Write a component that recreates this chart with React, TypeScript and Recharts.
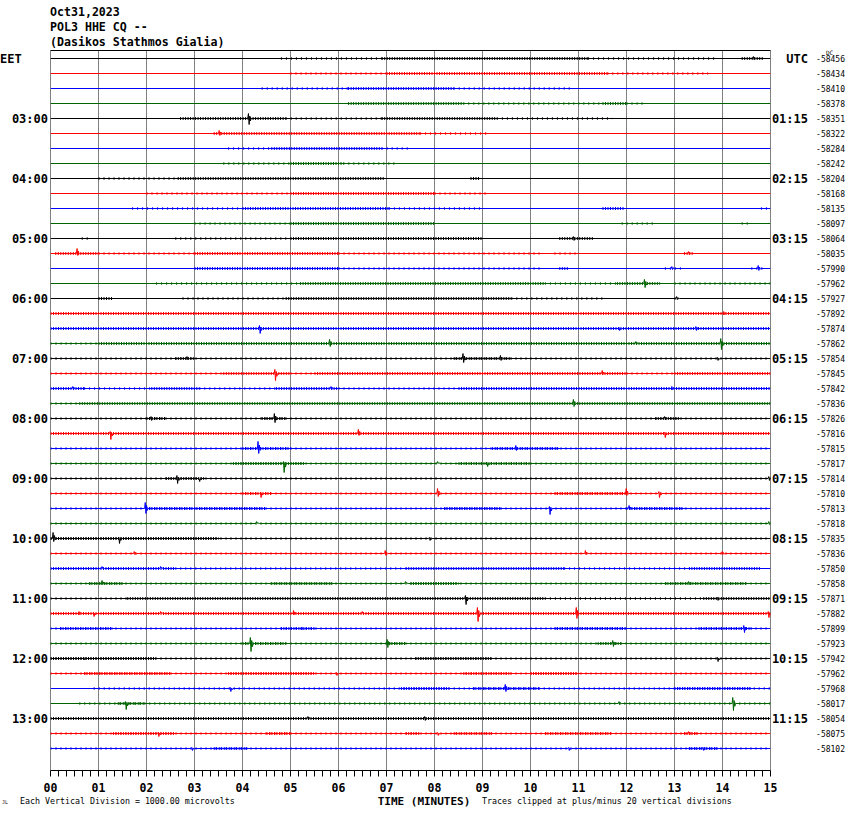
import React from "react";
import { LineChart, Line, XAxis, YAxis, ReferenceLine } from "recharts";

// labels
const minuteLabels = ["00", "01", "02", "03", "04", "05", "06", "07", "08", "09", "10", "11", "12", "13", "14", "15"];
const eetHours = ["03:00", "04:00", "05:00", "06:00", "07:00", "08:00", "09:00", "10:00", "11:00", "12:00", "13:00"];
const utcHours = ["01:15", "02:15", "03:15", "04:15", "05:15", "06:15", "07:15", "08:15", "09:15", "10:15", "11:15"];

// DC offset printed at the right of each trace
const dcValues = [
  -58456, -58434, -58410, -58378, -58351, -58322, -58284, -58242, -58204, -58168, -58135, -58097,
  -58064, -58035, -57990, -57962, -57927, -57892, -57874, -57862, -57854, -57845, -57842, -57836,
  -57826, -57816, -57815, -57817, -57814, -57810, -57813, -57818, -57835, -57836, -57850, -57858,
  -57871, -57882, -57899, -57923, -57942, -57962, -57968, -58017, -58054, -58075, -58102,
];

const traceColors = ["#000000", "#ff0000", "#0000ff", "#006400"];

// noisy stretches of each trace: [from minute, to minute, level 1 = light / 2 = heavy]
const noiseSegments: [number, number, number][][] = [
  [[4.8, 6.9, 1], [6.9, 11.2, 2], [11.2, 13.9, 1], [14.4, 14.85, 2]],
  [[5.0, 7.0, 1], [7.0, 11.6, 2], [11.6, 13.7, 1]],
  [[4.4, 6.2, 1], [6.2, 8.4, 2], [8.4, 10.9, 1]],
  [[6.2, 8.6, 2], [8.6, 11.5, 1], [11.5, 12.0, 2], [12.0, 12.4, 1]],
  [[2.7, 4.9, 2], [4.9, 6.9, 1], [6.9, 9.3, 2], [9.3, 11.7, 1]],
  [[3.4, 7.7, 2], [7.7, 9.1, 1]],
  [[3.7, 4.6, 1], [4.6, 6.9, 2], [6.9, 7.5, 1]],
  [[3.6, 5.0, 1], [5.0, 6.1, 2], [6.1, 7.2, 1]],
  [[1.0, 2.65, 1], [2.65, 6.95, 2], [8.75, 8.95, 2]],
  [[2.0, 5.0, 1], [5.0, 8.0, 2], [8.0, 9.1, 1]],
  [[1.7, 4.0, 1], [4.0, 7.05, 2], [7.05, 9.0, 1], [11.5, 11.95, 2], [14.8, 15, 1]],
  [[3.0, 5.0, 1], [5.0, 8.0, 2], [11.9, 12.6, 1], [14.4, 14.6, 1]],
  [[0.65, 0.8, 1], [2.6, 5.0, 1], [5.0, 9.0, 2], [10.6, 11.3, 2]],
  [[0.1, 1.0, 2], [1.0, 3.0, 1], [3.0, 6.0, 2], [6.0, 10.2, 1], [10.5, 11.0, 1], [13.2, 13.4, 2]],
  [[3.0, 6.0, 2], [6.0, 10.2, 1], [10.6, 10.8, 2], [12.8, 13.2, 1], [14.6, 14.9, 1]],
  [[2.2, 5.2, 1], [5.2, 10.3, 2], [10.3, 11.8, 1], [11.8, 12.7, 2], [13.0, 15, 1]],
  [[1.0, 1.3, 2], [2.75, 4.9, 1], [4.9, 9.6, 2], [9.6, 11.5, 1], [13.0, 13.1, 1]],
  [[0, 15, 2]],
  [[0, 15, 2]],
  [[0, 1.0, 1], [1.0, 15, 2]],
  [[0, 15, 1], [2.6, 3.0, 2], [8.4, 9.6, 2]],
  [[0, 3.6, 1], [3.6, 5.0, 2], [5.0, 5.5, 1], [5.5, 12.0, 2], [12.0, 13.0, 1], [13.0, 15, 2]],
  [[0, 0.7, 2], [0.7, 2.1, 1], [2.1, 3.1, 2], [3.1, 4.7, 1], [4.7, 6.0, 2], [6.0, 8.5, 1], [8.5, 15, 2]],
  [[0, 0.6, 1], [0.6, 15, 2]],
  [[0, 15, 1], [2.0, 2.4, 2], [4.4, 4.9, 2], [12.6, 13.1, 2]],
  [[0, 15, 2]],
  [[0, 15, 1], [4.0, 5.0, 2], [9.2, 10.6, 2]],
  [[0, 15, 1], [3.8, 5.3, 2], [8.5, 10.0, 2]],
  [[0, 15, 1], [2.4, 3.2, 2]],
  [[0, 15, 1], [4.0, 4.6, 2], [10.5, 12.0, 2]],
  [[0, 15, 1], [2.0, 4.5, 2], [8.2, 9.4, 2], [12.0, 13.2, 2]],
  [[0, 15, 1]],
  [[0, 15, 1], [0, 3.5, 2]],
  [[0, 15, 1]],
  [[0, 2.6, 2], [2.6, 7.4, 1], [7.4, 10.7, 2], [10.7, 13.3, 1], [13.3, 14.8, 2]],
  [[0, 15, 1], [0.8, 1.5, 2], [4.6, 5.9, 2], [7.5, 8.5, 2], [12.8, 14.5, 2]],
  [[0, 1.6, 1], [1.6, 10.3, 2], [10.3, 13.6, 1], [13.6, 15, 2]],
  [[0, 15, 2]],
  [[0, 15, 1], [0.2, 1.3, 2], [4.8, 5.5, 2], [10.5, 12.0, 2], [13.5, 14.6, 2]],
  [[0, 15, 1], [4.0, 4.9, 2], [7.0, 7.4, 2], [11.4, 11.9, 2]],
  [[0, 15, 1], [0, 2.2, 2], [7.6, 9.2, 2]],
  [[0, 15, 1], [0.7, 2.5, 2], [3.7, 5.5, 2], [8.6, 9.6, 2], [10.0, 11.0, 2]],
  [[0.9, 15, 1], [7.3, 8.3, 2], [8.8, 10.2, 2], [13.0, 14.6, 2]],
  [[0.6, 15, 1], [1.4, 1.95, 2]],
  [[0, 15, 2]],
  [[0, 15, 1], [1.3, 2.6, 2], [4.5, 5.0, 2], [7.4, 7.7, 2], [8.4, 9.2, 2], [10.3, 11.7, 2], [13.2, 13.5, 2]],
  [[0, 15, 1], [3.4, 4.1, 2], [13.3, 13.9, 2]],
];

// larger arrivals: [minute, peak up, peak down] in trace spacings
const traceEvents: [number, number, number][][] = [
  [[14.65, 0.13, 0.07]],
  [],
  [],
  [],
  [[4.13, 0.33, 0.4]],
  [[3.52, 0.2, 0.13]],
  [],
  [],
  [],
  [],
  [],
  [],
  [[10.9, 0.13, 0.13]],
  [[0.56, 0.33, 0.13], [13.3, 0.13, 0.07]],
  [[12.95, 0.13, 0.07], [14.75, 0.2, 0.13]],
  [[12.38, 0.27, 0.27]],
  [[13.05, 0.13, 0.07]],
  [[14.03, 0.13, 0.07]],
  [[4.36, 0.2, 0.33], [11.85, 0.07, 0.13], [13.45, 0.13, 0.13]],
  [[5.82, 0.27, 0.2], [12.2, 0.13, 0.07], [13.97, 0.33, 0.4]],
  [[2.85, 0.13, 0.07], [8.6, 0.33, 0.27], [9.38, 0.2, 0.13], [13.9, 0.07, 0.13]],
  [[4.68, 0.27, 0.47], [11.5, 0.2, 0.07]],
  [[0.47, 0.13, 0.07], [5.85, 0.13, 0.07], [12.95, 0.13, 0.07]],
  [[10.9, 0.27, 0.2]],
  [[2.1, 0.13, 0.13], [4.67, 0.33, 0.27], [12.8, 0.13, 0.07]],
  [[1.25, 0.13, 0.4], [6.42, 0.27, 0.13], [12.8, 0.07, 0.27]],
  [[4.33, 0.47, 0.33], [9.7, 0.2, 0.13]],
  [[4.86, 0.13, 0.6], [8.07, 0.13, 0.0], [9.1, 0.07, 0.2]],
  [[2.64, 0.2, 0.33], [3.1, 0.0, 0.2], [14.97, 0.13, 0.13]],
  [[4.38, 0.07, 0.27], [8.07, 0.33, 0.2], [12.0, 0.33, 0.13], [12.68, 0.13, 0.27]],
  [[1.98, 0.4, 0.33], [10.4, 0.13, 0.4], [12.06, 0.2, 0.07]],
  [[4.3, 0.13, 0.0], [14.97, 0.13, 0.07]],
  [[0.06, 0.4, 0.2], [1.43, 0.07, 0.33], [7.9, 0.07, 0.13]],
  [[1.75, 0.13, 0.07], [6.98, 0.2, 0.13], [11.15, 0.2, 0.07], [14.0, 0.13, 0.07]],
  [[1.08, 0.13, 0.0], [2.3, 0.13, 0.0]],
  [[1.08, 0.2, 0.07], [7.4, 0.13, 0.0], [13.3, 0.13, 0.07]],
  [[8.65, 0.2, 0.4], [13.9, 0.07, 0.13]],
  [[0.6, 0.13, 0.07], [0.9, 0.07, 0.2], [2.3, 0.13, 0.0], [5.07, 0.2, 0.07], [6.5, 0.13, 0.0], [8.9, 0.4, 0.53], [10.96, 0.4, 0.33], [14.96, 0.13, 0.27]],
  [[5.25, 0.07, 0.07], [14.45, 0.2, 0.27]],
  [[4.17, 0.4, 0.53], [7.02, 0.27, 0.27], [11.72, 0.2, 0.2]],
  [[0.7, 0.07, 0.07], [13.9, 0.07, 0.2]],
  [[5.96, 0.07, 0.13]],
  [[3.75, 0.07, 0.2], [9.48, 0.27, 0.2]],
  [[1.57, 0.13, 0.4], [11.85, 0.13, 0.07], [14.22, 0.4, 0.47]],
  [[5.37, 0.13, 0.07], [7.8, 0.13, 0.13]],
  [[2.25, 0.07, 0.2], [8.07, 0.07, 0.13], [13.3, 0.13, 0.07]],
  [[2.95, 0.07, 0.13], [10.8, 0.07, 0.13], [13.6, 0.07, 0.13]],
];

// y axis: trace i sits at -i, plot spans a little above the first and below the last trace
const Y_TOP = 8 / 15;
const Y_BOTTOM = -(46 + 22 / 15);

const FONT = "'DejaVu Sans Mono', 'Liberation Mono', monospace";

const minuteTicks = Array.from({ length: 91 }, (_, k) => k / 6);
const traceTicks = dcValues.map((_, i) => -i);
const hourTicks = traceTicks.filter((_, i) => i % 4 === 0);

type Pt = { t: number; v: number | null };

function traceData(i: number): Pt[] {
  const base = -i;
  const pts: Pt[] = [{ t: 0, v: base }];
  traceEvents[i].forEach(([t, up, down]) => {
    pts.push({ t: t - 0.02, v: base });
    pts.push({ t: t - 0.006, v: base + up });
    pts.push({ t: t + 0.008, v: base - down });
    pts.push({ t: t + 0.022, v: base + up * 0.5 });
    pts.push({ t: t + 0.036, v: base - down * 0.4 });
    pts.push({ t: t + 0.05, v: base });
  });
  pts.push({ t: 15, v: base });
  return pts;
}

function noiseData(i: number, level: number): Pt[] {
  const base = -i;
  const pts: Pt[] = [];
  noiseSegments[i]
    .filter((s) => s[2] === level)
    .forEach(([a, b]) => {
      pts.push({ t: a, v: base });
      pts.push({ t: b, v: base });
      pts.push({ t: b + 0.001, v: null });
    });
  return pts;
}

const MinuteTick = (props: any) => {
  const { x, y, payload } = props;
  const v = payload.value as number;
  const idx = Math.round(v);
  const major = Math.abs(v - idx) < 1e-6;
  return (
    <g>
      <line x1={x} x2={x} y1={y} y2={y + 6} stroke="#000" strokeWidth={1} />
      {major && (
        <text x={x} y={y + 21} textAnchor="middle" fontFamily={FONT} fontWeight="bold" fontSize={11.5} fill="#000">
          {minuteLabels[idx]}
        </text>
      )}
    </g>
  );
};

const LeftTick = (props: any) => {
  const { y, payload } = props;
  const i = Math.round(-payload.value);
  if (i === 0) {
    return (
      <text x={0} y={y + 4} textAnchor="start" fontFamily={FONT} fontWeight="bold" fontSize={12} fill="#000">
        EET
      </text>
    );
  }
  return (
    <text x={48} y={y + 4.5} textAnchor="end" fontFamily={FONT} fontWeight="bold" fontSize={12} fill="#000">
      {eetHours[i / 4 - 1]}
    </text>
  );
};

const RightTick = (props: any) => {
  const { y, payload } = props;
  const i = Math.round(-payload.value);
  const hour = i === 0 ? "UTC" : i % 4 === 0 ? utcHours[i / 4 - 1] : null;
  return (
    <g>
      {hour && (
        <text x={808} y={y + 4.5} textAnchor="end" fontFamily={FONT} fontWeight="bold" fontSize={12} fill="#000">
          {hour}
        </text>
      )}
      <text x={845} y={y + 3} textAnchor="end" fontFamily={FONT} fontSize={8} fill="#000">
        {dcValues[i]}
      </text>
    </g>
  );
};

export default function App() {
  return (
    <div style={{ position: "absolute", left: 0, top: 0, width: 850, height: 814, background: "#fff", overflow: "hidden" }}>
      <LineChart width={850} height={814} margin={{ top: 50.5, right: 0, bottom: 0, left: 0 }}>
        <XAxis
          type="number"
          dataKey="t"
          domain={[0, 15]}
          ticks={minuteTicks}
          interval={0}
          allowDataOverflow
          height={43.5}
          tickSize={0}
          tickMargin={0}
          tickLine={false}
          axisLine={{ stroke: "#000", strokeWidth: 1 }}
          tick={<MinuteTick />}
        />
        <YAxis
          yAxisId="left"
          orientation="left"
          type="number"
          domain={[Y_BOTTOM, Y_TOP]}
          ticks={hourTicks}
          interval={0}
          allowDataOverflow
          width={50.5}
          tickSize={0}
          tickMargin={0}
          tickLine={false}
          axisLine={false}
          tick={<LeftTick />}
        />
        <YAxis
          yAxisId="right"
          orientation="right"
          type="number"
          domain={[Y_BOTTOM, Y_TOP]}
          ticks={traceTicks}
          interval={0}
          allowDataOverflow
          width={79.5}
          tickSize={0}
          tickMargin={0}
          tickLine={false}
          axisLine={false}
          tick={<RightTick />}
        />

        {minuteLabels.map((_, m) => (
          <ReferenceLine key={"g" + m} yAxisId="left" x={m} stroke="#808080" strokeWidth={1} />
        ))}
        <ReferenceLine yAxisId="left" y={Y_TOP} stroke="#000" strokeWidth={1} />

        {dcValues.map((_, i) => (
          <Line
            key={"t" + i}
            yAxisId="left"
            data={traceData(i)}
            dataKey="v"
            type="linear"
            stroke={traceColors[i % 4]}
            strokeWidth={1}
            dot={false}
            activeDot={false}
            isAnimationActive={false}
          />
        ))}
        {dcValues.map((_, i) => (
          <Line
            key={"l" + i}
            yAxisId="left"
            data={noiseData(i, 1)}
            dataKey="v"
            type="linear"
            stroke={traceColors[i % 4]}
            strokeWidth={2.5}
            strokeDasharray="1 4"
            connectNulls={false}
            dot={false}
            activeDot={false}
            isAnimationActive={false}
          />
        ))}
        {dcValues.map((_, i) => (
          <Line
            key={"h" + i}
            yAxisId="left"
            data={noiseData(i, 2)}
            dataKey="v"
            type="linear"
            stroke={traceColors[i % 4]}
            strokeWidth={3}
            strokeDasharray="1 1.5"
            connectNulls={false}
            dot={false}
            activeDot={false}
            isAnimationActive={false}
          />
        ))}
      </LineChart>

      <svg width={850} height={814} style={{ position: "absolute", left: 0, top: 0, pointerEvents: "none" }}>
        <g fontFamily={FONT} fontWeight="bold" fontSize={11.6} fill="#000">
          <text x={50} y={16}>Oct31,2023</text>
          <text x={50} y={31}>POL3 HHE CQ --</text>
          <text x={50} y={46}>(Dasikos Stathmos Gialia)</text>
        </g>
        <text x={826} y={55} fontFamily={FONT} fontSize={6} fill="#000">DC</text>
        <text x={424} y={805} textAnchor="middle" fontFamily={FONT} fontWeight="bold" fontSize={11} fill="#000">
          TIME (MINUTES)
        </text>
        <text x={20} y={804} fontFamily={FONT} fontSize={8.3} fill="#000">
          Each Vertical Division = 1000.00 microvolts
        </text>
        <text x={482} y={804} fontFamily={FONT} fontSize={8.3} fill="#000">
          Traces clipped at plus/minus 20 vertical divisions
        </text>
        <text x={2} y={804} fontFamily={FONT} fontSize={5} fill="#000">JL</text>
      </svg>
    </div>
  );
}
